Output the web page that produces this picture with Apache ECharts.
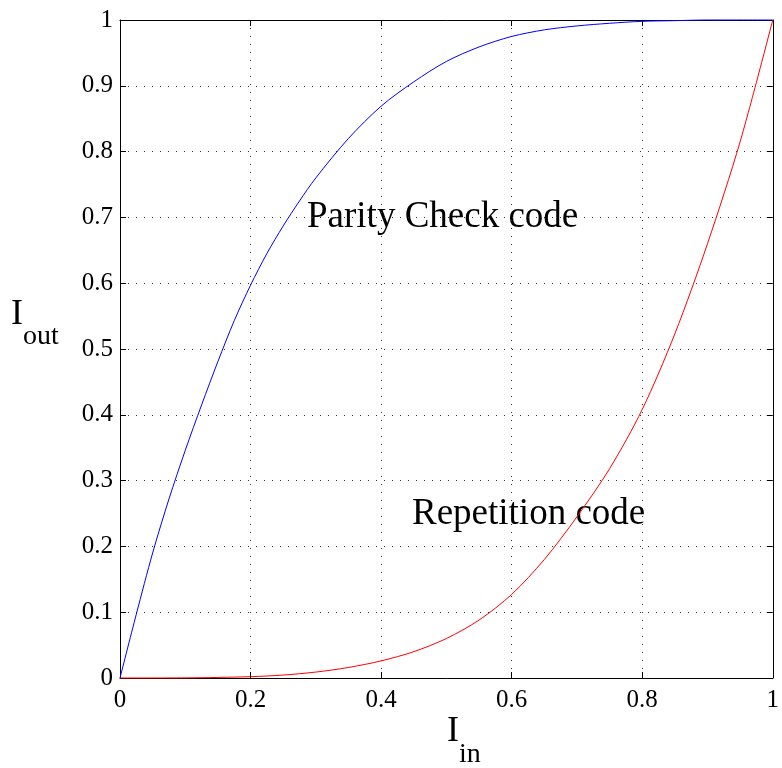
<!DOCTYPE html>
<html>
<head>
<meta charset="utf-8">
<script src="https://cdn.jsdelivr.net/npm/echarts@6/dist/echarts.min.js"></script>
<style>
  html, body { margin: 0; padding: 0; background: #fff; }
  #chart { width: 782px; height: 768px; }
</style>
</head>
<body>
<div id="chart"></div>
<script>
// EXIT-style transfer curves: output information vs. input information
const parityIn  = [0, 0.025, 0.05, 0.075, 0.1, 0.125, 0.15, 0.175, 0.2, 0.225, 0.25, 0.275, 0.3,
                   0.35, 0.4, 0.45, 0.5, 0.55, 0.6, 0.65, 0.7, 0.75, 0.8, 0.85, 0.9, 1.0];
const parityOut = [0, 0.097, 0.19, 0.272, 0.346, 0.415, 0.481, 0.543, 0.597, 0.645, 0.687, 0.725, 0.76,
                   0.82, 0.869, 0.906, 0.937, 0.959, 0.975, 0.985, 0.991, 0.995, 0.998, 0.999, 1.0, 1.0];

const repIn  = [0, 0.1, 0.2, 0.25, 0.3, 0.35, 0.4, 0.45, 0.5, 0.55, 0.6, 0.65, 0.7, 0.75, 0.8, 0.85, 0.9, 0.95, 1.0];
const repOut = [0, 0.0002, 0.002, 0.0045, 0.009, 0.016, 0.026, 0.040, 0.060, 0.088, 0.127, 0.18, 0.245, 0.318, 0.408, 0.523, 0.66, 0.815, 1.0];

const xTicks = [0, 0.2, 0.4, 0.6, 0.8, 1];
const yTicks = [0, 0.1, 0.2, 0.3, 0.4, 0.5, 0.6, 0.7, 0.8, 0.9, 1];

const FONT = "'Liberation Serif', 'Times New Roman', serif";

const pairs = (xs, ys) => xs.map((x, i) => [x, ys[i]]);

const gridDots = { show: true, lineStyle: { color: '#333', width: 1, type: [1, 7] } };
const axisBlack = { show: true, onZero: false, lineStyle: { color: '#000', width: 1 } };
const tickIn = { show: true, inside: true, length: 6, lineStyle: { color: '#000', width: 1 } };

const chart = echarts.init(document.getElementById('chart'), null, { renderer: 'canvas' });

chart.setOption({
  backgroundColor: '#fff',
  animation: false,
  grid: { left: 120, top: 20, right: 5, bottom: 90, containLabel: false },
  xAxis: [
    {
      type: 'value', min: 0, max: 1, interval: 0.2, position: 'bottom',
      axisLine: axisBlack, axisTick: tickIn, splitLine: gridDots,
      axisLabel: {
        margin: 10, color: '#000', fontSize: 25, fontFamily: FONT,
        formatter: v => String(xTicks.find(t => Math.abs(t - v) < 1e-9) ?? v)
      }
    },
    {
      type: 'value', min: 0, max: 1, interval: 0.2, position: 'top',
      axisLine: axisBlack, axisTick: tickIn, splitLine: { show: false }, axisLabel: { show: false }
    }
  ],
  yAxis: [
    {
      type: 'value', min: 0, max: 1, interval: 0.1, position: 'left',
      axisLine: axisBlack, axisTick: tickIn, splitLine: gridDots,
      axisLabel: {
        margin: 7, color: '#000', fontSize: 25, fontFamily: FONT,
        formatter: v => String(yTicks.find(t => Math.abs(t - v) < 1e-9) ?? v)
      }
    },
    {
      type: 'value', min: 0, max: 1, interval: 0.1, position: 'right',
      axisLine: axisBlack, axisTick: tickIn, splitLine: { show: false }, axisLabel: { show: false }
    }
  ],
  series: [
    {
      name: 'Parity Check code', type: 'line', data: pairs(parityIn, parityOut),
      smooth: 0.3, showSymbol: false, clip: false,
      lineStyle: { color: '#0000ff', width: 1 }, z: 3
    },
    {
      name: 'Repetition code', type: 'line', data: pairs(repIn, repOut),
      smooth: 0.3, showSymbol: false, clip: false,
      lineStyle: { color: '#ff0000', width: 1 }, z: 3
    }
  ],
  graphic: [
    // curve annotations
    { type: 'text', x: 307, y: 217, style: { text: 'Parity Check code', font: '37px ' + FONT, fill: '#000', verticalAlign: 'middle' } },
    { type: 'text', x: 412, y: 514, style: { text: 'Repetition code', font: '37px ' + FONT, fill: '#000', verticalAlign: 'middle' } },
    // y-axis title: I with subscript "out"
    { type: 'text', x: 11, y: 315, style: { text: 'I', font: '36px ' + FONT, fill: '#000', verticalAlign: 'middle' } },
    { type: 'text', x: 23, y: 337, style: { text: 'out', font: '28px ' + FONT, fill: '#000', verticalAlign: 'middle' } },
    // x-axis title: I with subscript "in"
    { type: 'text', x: 447, y: 732, style: { text: 'I', font: '36px ' + FONT, fill: '#000', verticalAlign: 'middle' } },
    { type: 'text', x: 459, y: 755, style: { text: 'in', font: '28px ' + FONT, fill: '#000', verticalAlign: 'middle' } }
  ]
});
</script>
</body>
</html>
